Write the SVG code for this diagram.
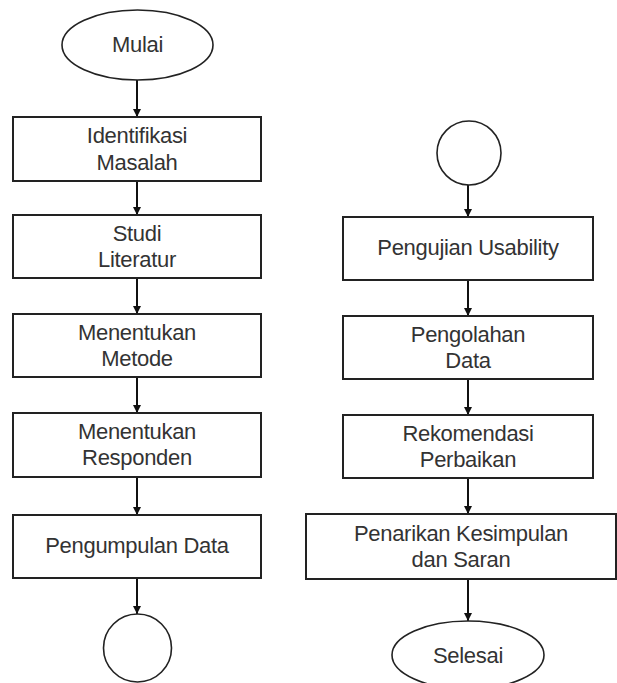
<svg xmlns="http://www.w3.org/2000/svg" width="617" height="683" viewBox="0 0 617 683">
<defs>
<marker id="ah" viewBox="0 0 8 8" refX="8" refY="4" markerWidth="8" markerHeight="8" markerUnits="userSpaceOnUse" orient="auto">
<path d="M0,0 L8,4 L0,8 Z" fill="#111"/>
</marker>
<style>
.box{fill:#fff;stroke:#222;stroke-width:2}
.term{fill:#fff;stroke:#222;stroke-width:1.6}
.t{font-family:"Liberation Sans",Arial,sans-serif;font-size:22px;fill:#333;text-anchor:middle;letter-spacing:-0.3px}
.c{stroke:#111;stroke-width:2;fill:none;marker-end:url(#ah)}
</style>
</defs>
<rect width="617" height="683" fill="#fff"/>
<g id="connectors">
<line class="c" x1="137" y1="80" x2="137" y2="117"/>
<line class="c" x1="137" y1="181" x2="137" y2="215"/>
<line class="c" x1="137" y1="278" x2="137" y2="314"/>
<line class="c" x1="137" y1="377" x2="137" y2="413"/>
<line class="c" x1="137" y1="477" x2="137" y2="515"/>
<line class="c" x1="137" y1="578" x2="137" y2="614"/>
<line class="c" x1="468" y1="185" x2="468" y2="217"/>
<line class="c" x1="468" y1="280" x2="468" y2="316"/>
<line class="c" x1="468" y1="379" x2="468" y2="415"/>
<line class="c" x1="468" y1="478" x2="468" y2="514"/>
<line class="c" x1="468" y1="579" x2="468" y2="621"/>
</g>
<g id="mulai">
<ellipse class="term" cx="137.5" cy="45" rx="75.5" ry="35"/>
<text class="t" x="137.5" y="52">Mulai</text>
</g>
<g id="identifikasi">
<rect class="box" x="13" y="117" width="248" height="64"/>
<text class="t" x="137" y="143">Identifikasi</text>
<text class="t" x="137" y="170">Masalah</text>
</g>
<g id="studi">
<rect class="box" x="13" y="215" width="248" height="63"/>
<text class="t" x="137" y="241">Studi</text>
<text class="t" x="137" y="267">Literatur</text>
</g>
<g id="metode">
<rect class="box" x="13" y="314" width="248" height="63"/>
<text class="t" x="137" y="340">Menentukan</text>
<text class="t" x="137" y="366">Metode</text>
</g>
<g id="responden">
<rect class="box" x="13" y="413" width="248" height="64"/>
<text class="t" x="137" y="439">Menentukan</text>
<text class="t" x="137" y="465">Responden</text>
</g>
<g id="pengumpulan">
<rect class="box" x="13" y="515" width="248" height="63"/>
<text class="t" x="137" y="553">Pengumpulan Data</text>
</g>
<g id="connector-a">
<circle class="term" cx="137.5" cy="648" r="34"/>
</g>
<g id="connector-b">
<circle class="term" cx="469" cy="153" r="32"/>
</g>
<g id="pengujian">
<rect class="box" x="343" y="217" width="250" height="63"/>
<text class="t" x="468" y="255">Pengujian Usability</text>
</g>
<g id="pengolahan">
<rect class="box" x="343" y="316" width="250" height="63"/>
<text class="t" x="468" y="342">Pengolahan</text>
<text class="t" x="468" y="368">Data</text>
</g>
<g id="rekomendasi">
<rect class="box" x="343" y="415" width="250" height="63"/>
<text class="t" x="468" y="441">Rekomendasi</text>
<text class="t" x="468" y="467">Perbaikan</text>
</g>
<g id="penarikan">
<rect class="box" x="306" y="514" width="310" height="65"/>
<text class="t" x="461" y="541">Penarikan Kesimpulan</text>
<text class="t" x="461" y="567">dan Saran</text>
</g>
<g id="selesai">
<ellipse class="term" cx="468" cy="655" rx="76" ry="34"/>
<text class="t" x="468" y="663">Selesai</text>
</g>
</svg>
